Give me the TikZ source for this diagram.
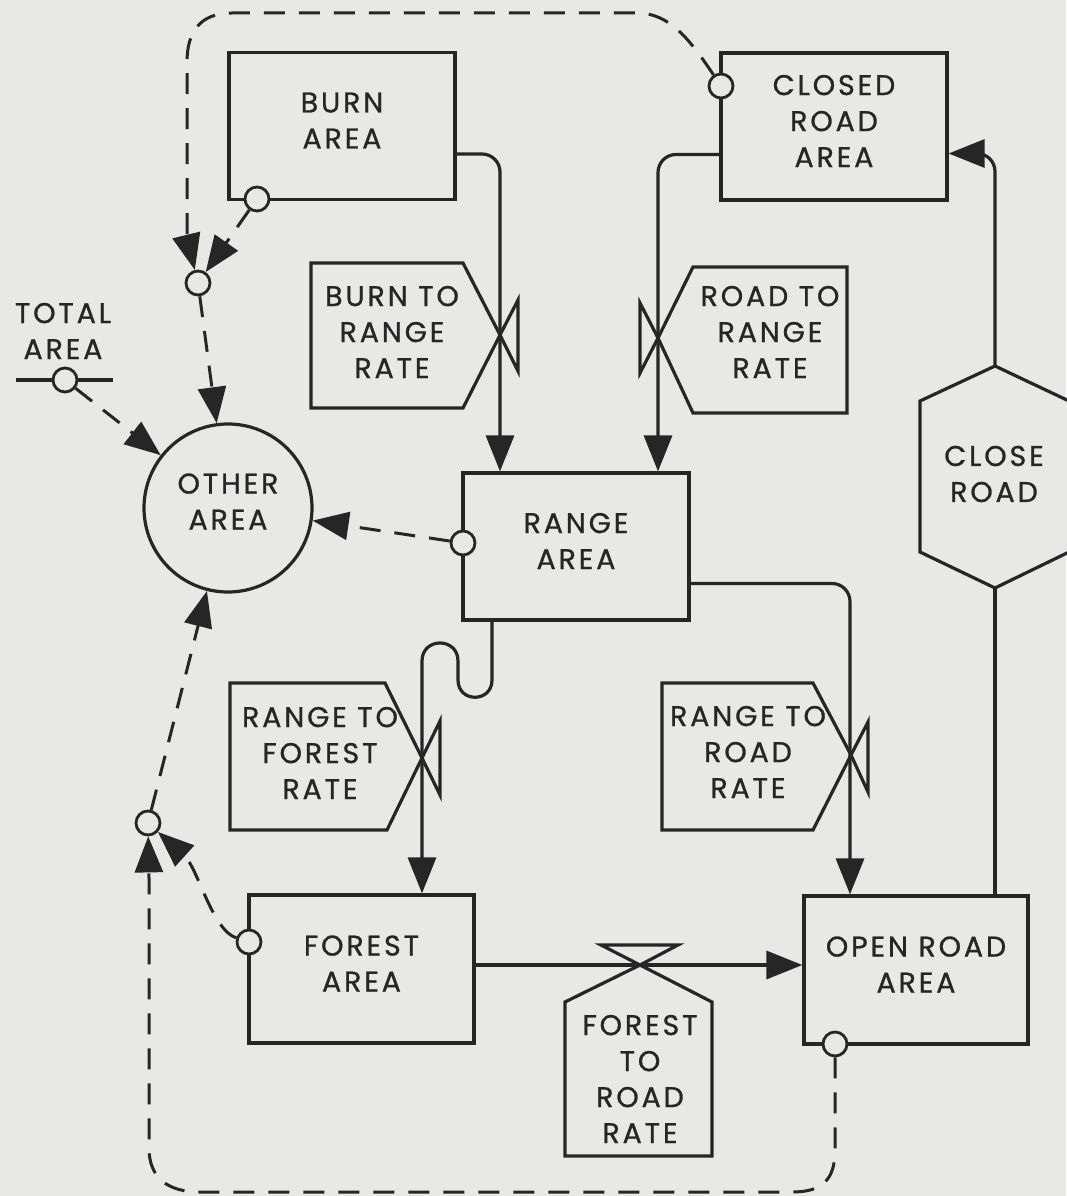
\documentclass[tikz,border=0pt]{standalone}
\usepackage{fontspec}
\setmainfont{Poppins}[LetterSpace=10, FakeBold=0.9]
\usetikzlibrary{arrows.meta}
\definecolor{paper}{HTML}{E8E8E6}
\definecolor{ink}{HTML}{262626}
\begin{document}
\begin{tikzpicture}[x=1pt,y=-1pt,
  every node/.style={font=\fontsize{28.5}{36}\selectfont, text=ink, align=center},
  stock/.style={draw=ink, line width=3.2pt, minimum width=226pt, minimum height=147pt, inner sep=0pt, text depth=11pt},
  flow/.style={draw=ink, line width=3.2pt, rounded corners=18pt},
  flowarrow/.style={flow, -{Triangle[length=36pt,width=28pt]}},
  info/.style={draw=ink, line width=3pt, dash pattern=on 21pt off 14pt},
  infoarrow/.style={info, -{Triangle[length=36pt,width=28pt]}},
  port/.style={circle, draw=ink, line width=2.8pt, fill=paper, minimum size=24pt, inner sep=0pt},
  valveline/.style={draw=ink, line width=3.2pt, line join=miter},
  label/.style={inner sep=0pt}
]
\useasboundingbox (0,0) rectangle (1066,1196);
\fill[paper] (0,0) rectangle (1066,1196);

% stocks
\node[stock] (burn) at (342,126) {BURN\\AREA};
\node[stock] (closed) at (834,126.5) {CLOSED\\ROAD\\AREA};
\node[stock] (range) at (576,546.5) {RANGE\\AREA};
\node[stock, minimum width=225pt, minimum height=148pt] (forest) at (361.5,969) {FOREST\\AREA};
\node[stock, minimum width=224pt, minimum height=148pt] (open) at (916,970) {OPEN ROAD\\AREA};
\node[circle, draw=ink, line width=3.2pt, minimum size=168pt, inner sep=0pt, text depth=13pt] (other) at (228,508) {OTHER\\AREA};

% close road hexagon
\coordinate (hexN) at (995,366);
\coordinate (hexS) at (995,588);
\draw[valveline, fill=paper] (hexN) -- (1069,401) -- (1069,552) -- (hexS) -- (920,552) -- (920,401) -- cycle;
\node[label] (closeroad) at (994,474) {CLOSE\\ROAD};

% total area
\node[label] (total) at (63,331) {TOTAL\\AREA};
\coordinate (totL) at (16,380);
\coordinate (totR) at (113,380);
\draw[valveline] (totL) -- (totR);

% rate valves
\draw[valveline] (311,263) -- (463,263) -- (500,335) -- (463,408) -- (311,408) -- cycle;
\draw[valveline] (500,335) -- (518,300) -- (518,371) -- cycle;
\node[label] (burnrate) at (392,332) {BURN TO\\RANGE\\RATE};

\draw[valveline] (847,267) -- (693,267) -- (658,338) -- (693,413) -- (847,413) -- cycle;
\draw[valveline] (658,338) -- (640,303) -- (640,373) -- cycle;
\node[label] (roadrate) at (770,332) {ROAD TO\\RANGE\\RATE};

\draw[valveline] (230,683) -- (385,683) -- (422,758) -- (387,830) -- (230,830) -- cycle;
\draw[valveline] (422,758) -- (440,721) -- (440,795) -- cycle;
\node[label] (forestrate) at (320,753) {RANGE TO\\FOREST\\RATE};

\draw[valveline] (662,683) -- (813,683) -- (851,755) -- (813,830) -- (662,830) -- cycle;
\draw[valveline] (851,755) -- (868,722) -- (868,792) -- cycle;
\node[label] (opentrate) at (748,752) {RANGE TO\\ROAD\\RATE};

\draw[valveline] (640,965) -- (712,1002) -- (712,1156) -- (565,1156) -- (565,1002) -- cycle;
\draw[valveline] (640,965) -- (601,945) -- (678,945) -- cycle;
\node[label] (frrate) at (640,1079) {FOREST\\TO\\ROAD\\RATE};

% flows
\draw[flowarrow] ([yshift=-28pt]burn.east) -| ([xshift=-76pt]range.north);
\draw[flowarrow] ([yshift=-28pt]closed.west) -| ([xshift=82pt]range.north);
\draw[flowarrow] ([yshift=-37pt]range.east) -| ([xshift=-66pt]open.north);
\draw[flowarrow] ([yshift=4pt]forest.east) -- ([yshift=4pt]forest.east -| open.west);
\draw[flow] ([xshift=79pt]open.north) -- (hexS);
\draw[flowarrow] (hexN) |- ([yshift=-27pt]closed.east);
\draw[flowarrow, rounded corners=0pt] ([xshift=-84pt]range.south) -- (492,680)
  .. controls (492,703) and (458,703) .. (458,680) -- (458,661)
  .. controls (458,637) and (422,637) .. (422,661) -- ([xshift=60.5pt]forest.north);

% ports
\node[port] (cclosed) at (721,86) {};
\node[port] (cburn) at (257,199) {};
\node[port] (crange) at (463,543) {};
\node[port] (cforest) at (249,942) {};
\node[port] (copen) at (835,1044) {};
\node[port] (ctotal) at (65,380) {};
\node[port] (aux1) at (198,283) {};
\node[port] (aux2) at (148,823) {};

% information links
\draw[infoarrow] (cclosed) .. controls (690,40) and (670,13) .. (637,13) -- (232,13)
  .. controls (200,13) and (187,32) .. (187,62) -- (187,238) -- (aux1);
\draw[infoarrow] (cburn) -- (aux1);
\draw[infoarrow] (aux1) -- (other);
\draw[infoarrow] (ctotal) -- (other);
\draw[infoarrow] (crange) -- (other);
\draw[infoarrow] (copen) -- (835,1150) .. controls (835,1180) and (822,1192) .. (792,1192)
  -- (200,1192) .. controls (168,1192) and (149,1178) .. (149,1148) -- (149,878) -- (aux2);
\draw[infoarrow] (cforest) .. controls (212,930) and (198,868) .. (aux2);
\draw[infoarrow] (aux2) -- (other);
\end{tikzpicture}
\end{document}
